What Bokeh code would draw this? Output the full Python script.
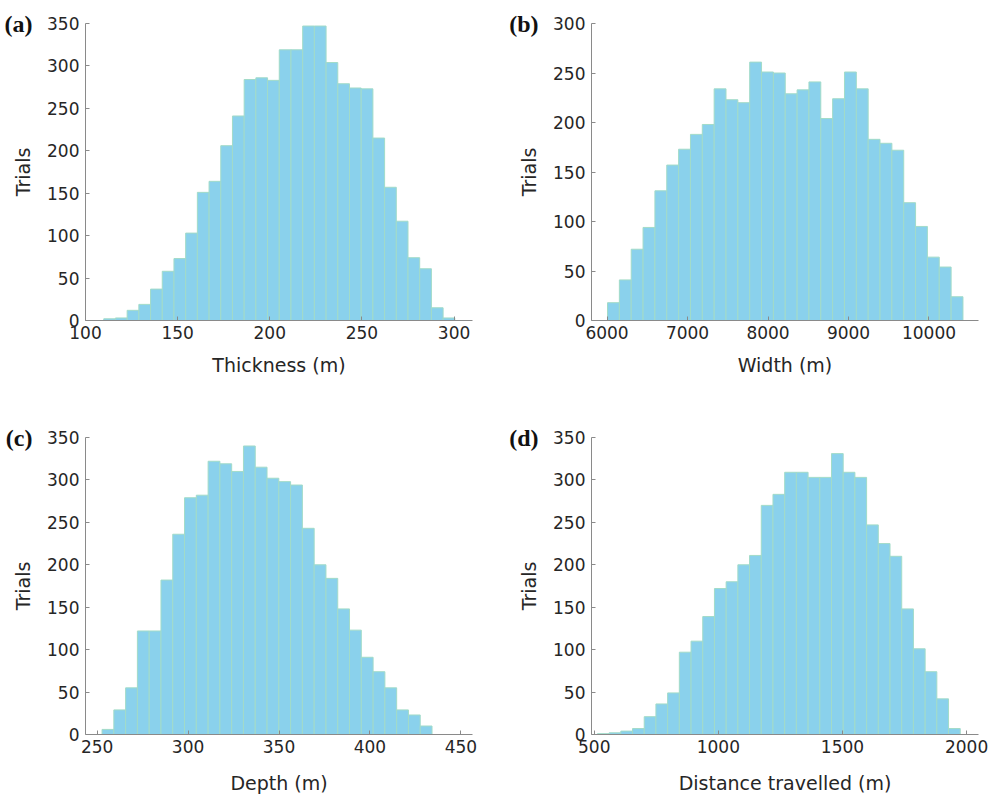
from bokeh.plotting import figure
from bokeh.models import Range1d, FixedTicker, LinearAxis
from bokeh.layouts import column, row
from bokeh.embed import file_html
from bokeh.resources import INLINE

# ---------------- data ----------------
# (a) Thickness
a_bin_start = 109.9
a_bin_width = 6.35
a_counts = [2, 3, 12, 19, 37, 58, 73, 103, 151, 164, 206, 241, 284, 286, 283,
            319, 319, 347, 347, 304, 279, 274, 273, 215, 157, 117, 74, 61, 15, 3]
a_xticks = [100, 150, 200, 250, 300]
a_yticks = [0, 50, 100, 150, 200, 250, 300, 350]

# (b) Width
b_bin_start = 6006
b_bin_width = 147.2
b_counts = [18, 41, 72, 94, 131, 157, 173, 188, 198, 234, 223, 220, 261, 251, 250,
            229, 233, 241, 204, 224, 251, 234, 183, 179, 172, 119, 95, 64, 54, 24]
b_xticks = [6000, 7000, 8000, 9000, 10000]
b_yticks = [0, 50, 100, 150, 200, 250, 300]

# (c) Depth
c_bin_start = 252.7
c_bin_width = 6.48
c_counts = [6, 29, 55, 122, 122, 182, 236, 279, 282, 322, 319, 310, 340, 315,
            302, 298, 294, 243, 200, 184, 148, 123, 91, 74, 55, 29, 23, 10]
c_xticks = [250, 300, 350, 400, 450]
c_yticks = [0, 50, 100, 150, 200, 250, 300, 350]

# (d) Distance travelled
d_bin_start = 512.8
d_bin_width = 47.15
d_counts = [1, 2, 4, 7, 21, 36, 49, 97, 110, 139, 172, 180, 200, 211, 270, 283,
            309, 309, 303, 303, 331, 309, 303, 247, 225, 210, 148, 101, 74, 42, 7]
d_xticks = [500, 1000, 1500, 2000]
d_yticks = [0, 50, 100, 150, 200, 250, 300, 350]

# ---------------- styling ----------------
BAR_FILL = "#8ad1ec"
BAR_EDGE = "#a2dbc8"
AXIS_COL = "#8a8a8a"
TEXT_COL = "#262626"
SANS = "DejaVu Sans"


def panel(counts, start, width, xrange, xticks, yticks, xlabel, tag,
          w, h, left, right, top, bottom, title_standoff):
    p = figure(width=w, height=h, output_backend="svg", toolbar_location=None,
               x_range=Range1d(*xrange), y_range=Range1d(yticks[0], yticks[-1]),
               min_border_left=left, min_border_right=right,
               min_border_top=top, min_border_bottom=bottom)
    lefts = [start + i * width for i in range(len(counts))]
    rights = [l + width for l in lefts]
    p.quad(left=lefts, right=rights, bottom=0, top=counts,
           fill_color=BAR_FILL, line_color=BAR_EDGE, line_width=1)
    p.xgrid.visible = False
    p.ygrid.visible = False
    p.outline_line_color = None
    p.xaxis.ticker = FixedTicker(ticks=xticks)
    p.yaxis.ticker = FixedTicker(ticks=yticks)
    for ax in (p.xaxis, p.yaxis):
        ax.axis_line_color = AXIS_COL
        ax.major_tick_line_color = AXIS_COL
        ax.major_tick_in = 4
        ax.major_tick_out = 0
        ax.minor_tick_line_color = None
        ax.major_label_text_font = SANS
        ax.major_label_text_font_size = "17px"
        ax.major_label_text_color = TEXT_COL
        ax.axis_label_text_font = SANS
        ax.axis_label_text_font_size = "19px"
        ax.axis_label_text_font_style = "normal"
        ax.axis_label_text_color = TEXT_COL
    p.xaxis.major_label_standoff = 5
    p.yaxis.major_label_standoff = 6
    p.xaxis.axis_label = xlabel
    p.yaxis.axis_label = "Trials"
    p.xaxis.axis_label_standoff = title_standoff
    p.yaxis.axis_label_standoff = 10
    # panel tag "(a)" etc.: an extra, line-less left axis with one labelled tick at the top
    tag_axis = LinearAxis(ticker=FixedTicker(ticks=[yticks[-1]]),
                          major_label_overrides={yticks[-1]: tag},
                          axis_line_color=None, major_tick_line_color=None,
                          minor_tick_line_color=None, major_tick_out=0, major_tick_in=0,
                          major_label_standoff=-23,
                          major_label_text_font="Liberation Serif",
                          major_label_text_font_style="bold",
                          major_label_text_font_size="24px",
                          major_label_text_color="#111111")
    p.add_layout(tag_axis, "left")
    return p


pa = panel(a_counts, a_bin_start, a_bin_width, (100, 310), a_xticks, a_yticks,
           "Thickness (m)", "(a)", 506, 422, 85, 34, 23, 102, 12)
pb = panel(b_counts, b_bin_start, b_bin_width, (5807, 10615), b_xticks, b_yticks,
           "Width (m)", "(b)", 486, 422, 85, 14, 23, 102, 12)
pc = panel(c_counts, c_bin_start, c_bin_width, (243.6, 456.4), c_xticks, c_yticks,
           "Depth (m)", "(c)", 506, 377, 85, 34, 15, 65, 16)
pd = panel(d_counts, d_bin_start, d_bin_width, (489, 2048), d_xticks, d_yticks,
           "Distance travelled (m)", "(d)", 486, 377, 85, 14, 15, 65, 16)

layout = column(row(pa, pb, spacing=0), row(pc, pd, spacing=0), spacing=0)
open("out.html", "w").write(file_html(layout, INLINE))
